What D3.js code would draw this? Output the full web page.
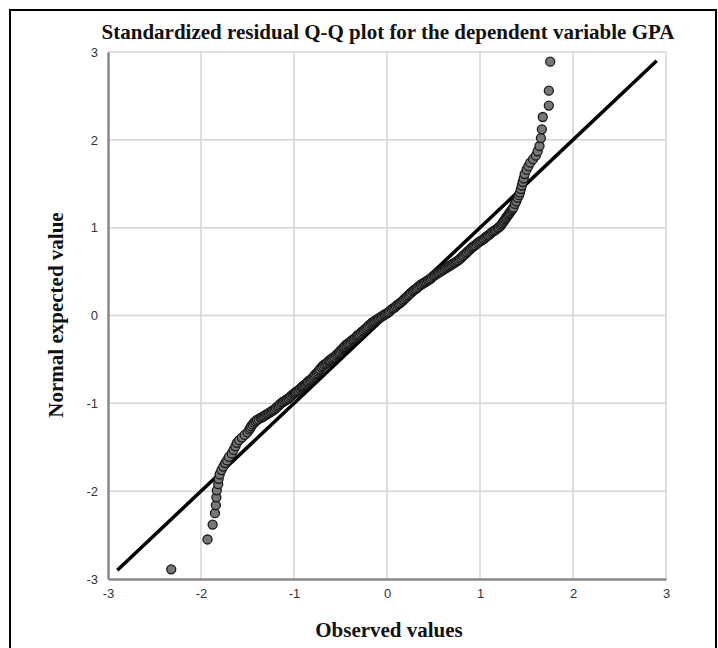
<!DOCTYPE html>
<meta charset="utf-8">
<style>
body { margin: 0; background: #fff; }
.title, .label { font: bold 21px "Liberation Serif", "Times New Roman", serif; fill: #111; }
</style>
<body>
<script src="https://cdn.jsdelivr.net/npm/d3@7"></script>
<script>

// observed standardized residuals (x) and normal expected values (y)
const observed = [
  -2.32, -1.93, -1.875, -1.85, -1.84, -1.835, -1.83, -1.815, -1.81, -1.80,
  -1.78, -1.76, -1.74, -1.72, -1.70, -1.67, -1.65, -1.63, -1.615, -1.59,
  -1.56, -1.53, -1.50, -1.48, -1.46, -1.43, -1.40, -1.36, -1.33, -1.30,
  -1.27, -1.24, -1.21, -1.18, -1.15, -1.12, -1.09, -1.06, -1.03, -1.00,
  -0.98, -0.95, -0.92, -0.90, -0.87, -0.85, -0.82, -0.79, -0.77, -0.74,
  -0.72, -0.69, -0.66, -0.63, -0.61, -0.58, -0.55, -0.52, -0.50, -0.47,
  -0.45, -0.42, -0.39, -0.36, -0.33, -0.31, -0.28, -0.25, -0.22, -0.19,
  -0.16, -0.13, -0.10, -0.07, -0.04, -0.01, 0.02, 0.05, 0.08, 0.11,
  0.14, 0.17, 0.20, 0.23, 0.26, 0.29, 0.32, 0.35, 0.38, 0.41,
  0.44, 0.47, 0.50, 0.53, 0.56, 0.59, 0.62, 0.65, 0.68, 0.71,
  0.74, 0.77, 0.80, 0.83, 0.86, 0.89, 0.92, 0.95, 0.98, 1.01,
  1.04, 1.07, 1.10, 1.13, 1.16, 1.19, 1.22, 1.24, 1.26, 1.28,
  1.30, 1.32, 1.34, 1.36, 1.375, 1.39, 1.405, 1.42, 1.43, 1.44,
  1.45, 1.46, 1.47, 1.48, 1.50, 1.52, 1.54, 1.57, 1.60, 1.62,
  1.64, 1.655, 1.665, 1.675, 1.74, 1.74, 1.755
];
const expected = [
  -2.89, -2.55, -2.38, -2.25, -2.16, -2.07, -1.99, -1.92, -1.86, -1.81,
  -1.76, -1.72, -1.68, -1.65, -1.61, -1.57, -1.53, -1.49, -1.45, -1.42,
  -1.39, -1.36, -1.33, -1.30, -1.26, -1.22, -1.19, -1.165, -1.15, -1.13,
  -1.11, -1.09, -1.07, -1.04, -1.01, -0.985, -0.965, -0.945, -0.915, -0.89,
  -0.87, -0.85, -0.82, -0.80, -0.78, -0.755, -0.73, -0.70, -0.67, -0.64,
  -0.61, -0.575, -0.55, -0.525, -0.505, -0.48, -0.455, -0.43, -0.40, -0.37,
  -0.345, -0.32, -0.295, -0.27, -0.245, -0.22, -0.195, -0.17, -0.14, -0.11,
  -0.08, -0.06, -0.04, -0.02, 0.00, 0.02, 0.04, 0.07, 0.09, 0.12,
  0.14, 0.17, 0.20, 0.23, 0.26, 0.29, 0.31, 0.34, 0.36, 0.38,
  0.40, 0.42, 0.45, 0.47, 0.49, 0.51, 0.53, 0.55, 0.57, 0.59,
  0.61, 0.63, 0.66, 0.69, 0.72, 0.75, 0.78, 0.80, 0.83, 0.85,
  0.87, 0.90, 0.92, 0.95, 0.97, 0.995, 1.02, 1.05, 1.08, 1.11,
  1.14, 1.17, 1.20, 1.23, 1.27, 1.30, 1.34, 1.37, 1.40, 1.44,
  1.48, 1.52, 1.56, 1.61, 1.66, 1.70, 1.74, 1.78, 1.82, 1.87,
  1.93, 2.02, 2.12, 2.26, 2.39, 2.56, 2.89
];
// the dense middle of the curve has more cases than the first pass caught
const observedMid = [
  -1.47, -1.445, -1.415, -1.38, -1.345, -1.315, -1.285, -1.255, -1.225, -1.195,
  -1.165, -1.135, -1.105, -1.075, -1.045, -1.015, -0.99, -0.965, -0.935, -0.91,
  -0.885, -0.86, -0.835, -0.805, -0.78, -0.755, -0.73, -0.705, -0.675, -0.645,
  -0.62, -0.595, -0.565, -0.535, -0.51, -0.485, -0.46, -0.435, -0.405, -0.375,
  -0.345, -0.32, -0.295, -0.265, -0.235, -0.205, -0.175, -0.145, -0.115, -0.085,
  -0.055, -0.025, 0.005, 0.035, 0.065, 0.095, 0.125, 0.155, 0.185, 0.215,
  0.245, 0.275, 0.305, 0.335, 0.365, 0.395, 0.425, 0.455, 0.485, 0.515,
  0.545, 0.575, 0.605, 0.635, 0.665, 0.695, 0.725, 0.755, 0.785, 0.815,
  0.845, 0.875, 0.905, 0.935, 0.965, 0.995, 1.025, 1.055, 1.085, 1.115,
  1.145, 1.175, 1.205, 1.23, 1.25, 1.27, 1.29, 1.31, 1.33, 1.35
];
const expectedMid = [
  -1.28, -1.24, -1.205, -1.18, -1.16, -1.14, -1.12, -1.10, -1.08, -1.055,
  -1.025, -0.995, -0.975, -0.955, -0.93, -0.90, -0.88, -0.86, -0.835, -0.81,
  -0.79, -0.765, -0.74, -0.715, -0.685, -0.655, -0.625, -0.59, -0.56, -0.54,
  -0.515, -0.49, -0.47, -0.44, -0.415, -0.385, -0.36, -0.33, -0.31, -0.28,
  -0.26, -0.23, -0.21, -0.18, -0.155, -0.125, -0.095, -0.07, -0.05, -0.03,
  -0.01, 0.01, 0.03, 0.055, 0.08, 0.105, 0.13, 0.155, 0.185, 0.215,
  0.245, 0.275, 0.30, 0.325, 0.35, 0.37, 0.39, 0.41, 0.435, 0.46,
  0.48, 0.50, 0.52, 0.54, 0.56, 0.58, 0.60, 0.62, 0.645, 0.675,
  0.705, 0.735, 0.765, 0.79, 0.815, 0.84, 0.86, 0.885, 0.91, 0.935,
  0.96, 0.98, 1.005, 1.035, 1.065, 1.095, 1.125, 1.155, 1.185, 1.215
];
const refLine = [-2.9, 2.9];
const xTicks = [-3, -2, -1, 0, 1, 2, 3];
const yTicks = [-3, -2, -1, 0, 1, 2, 3];

const width = 718, height = 648;
const margin = {top: 52, right: 52, bottom: 69, left: 108};

const svg = d3.select("body").append("svg")
    .attr("width", width)
    .attr("height", height);

svg.append("rect")
    .attr("x", 10).attr("y", 10)
    .attr("width", 706).attr("height", 700)
    .attr("fill", "#fff")
    .attr("stroke", "#000")
    .attr("stroke-width", 2);

const x = d3.scaleLinear().domain([-3, 3]).range([margin.left, width - margin.right]);
const y = d3.scaleLinear().domain([-3, 3]).range([height - margin.bottom, margin.top]);

// grid
svg.append("g")
    .attr("stroke", "#d4d4d4")
    .attr("stroke-width", 1.5)
  .selectAll("line")
  .data(xTicks.slice(1))
  .join("line")
    .attr("x1", d => x(d)).attr("x2", d => x(d))
    .attr("y1", y(3)).attr("y2", y(-3));

svg.append("g")
    .attr("stroke", "#d4d4d4")
    .attr("stroke-width", 1.5)
  .selectAll("line")
  .data(yTicks.slice(1))
  .join("line")
    .attr("x1", x(-3)).attr("x2", x(3))
    .attr("y1", d => y(d)).attr("y2", d => y(d));

// axes
function styleAxis(g) {
  g.selectAll(".tick text")
      .style("font-family", "'Liberation Sans', Arial, sans-serif")
      .style("font-size", "13px")
      .attr("fill", "#333");
  g.select(".domain").attr("stroke", "#888").attr("stroke-width", 2.5);
}

svg.append("g")
    .attr("transform", `translate(0,${y(-3)})`)
    .call(d3.axisBottom(x).tickValues(xTicks).tickSize(0).tickPadding(10).tickFormat(d => String(d)))
    .call(styleAxis);

svg.append("g")
    .attr("transform", `translate(${x(-3)},0)`)
    .call(d3.axisLeft(y).tickValues(yTicks).tickSize(0).tickPadding(10).tickFormat(d => String(d)))
    .call(styleAxis);

// reference line
svg.append("line")
    .attr("x1", x(refLine[0])).attr("y1", y(refLine[0]))
    .attr("x2", x(refLine[1])).attr("y2", y(refLine[1]))
    .attr("stroke", "#000")
    .attr("stroke-width", 3.5);

// points
const pts = observed.map((v, i) => [v, expected[i]])
    .concat(observedMid.map((v, i) => [v, expectedMid[i]]))
    .sort((a, b) => a[1] - b[1]);

svg.append("g")
    .attr("fill", "#777")
    .attr("stroke", "#1a1a1a")
    .attr("stroke-width", 1.3)
  .selectAll("circle")
  .data(pts)
  .join("circle")
    .attr("cx", d => x(d[0]))
    .attr("cy", d => y(d[1]))
    .attr("r", 4.5);

svg.append("text")
    .attr("class", "title")
    .attr("x", 388).attr("y", 39)
    .attr("text-anchor", "middle")
    .text("Standardized residual Q-Q plot for the dependent variable GPA");

svg.append("text")
    .attr("class", "label")
    .attr("x", 389).attr("y", 637)
    .attr("text-anchor", "middle")
    .text("Observed values");

svg.append("text")
    .attr("class", "label")
    .attr("transform", `translate(63,315) rotate(-90)`)
    .attr("text-anchor", "middle")
    .text("Normal expected value");

</script>
</body>
